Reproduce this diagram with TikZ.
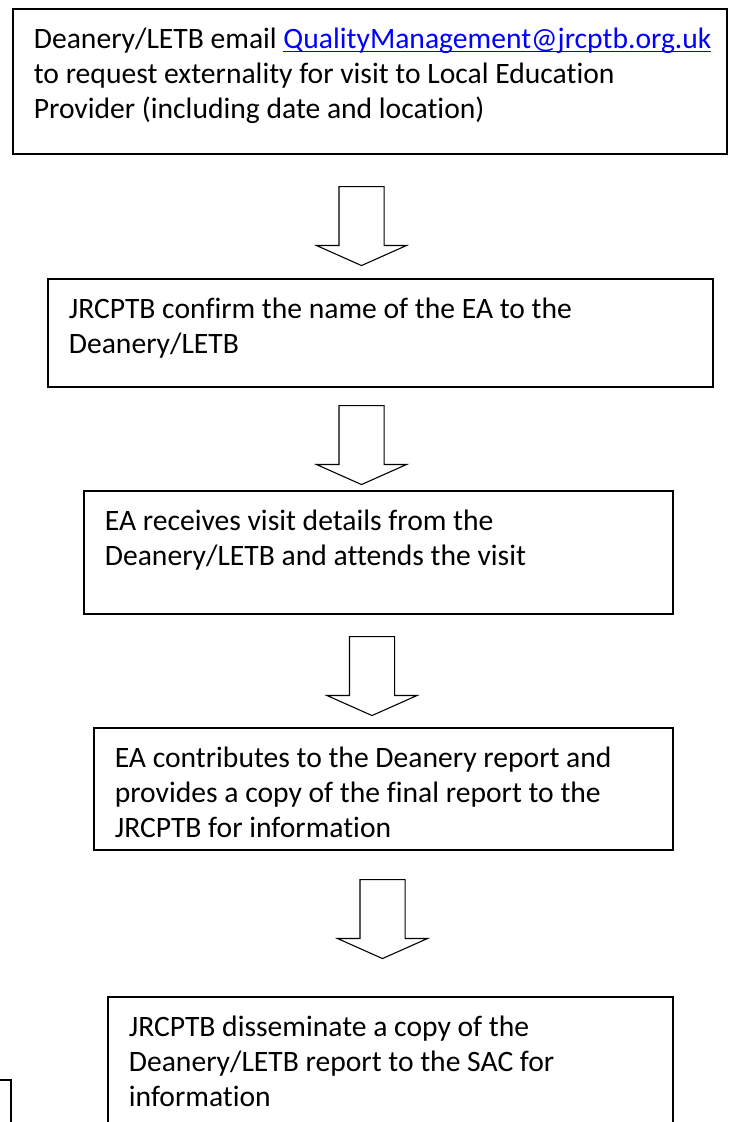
\documentclass[tikz,border=0pt]{standalone}
\usepackage{fontspec}
\setmainfont{Carlito}[Ligatures=NoCommon]
\usepackage{xcolor}
\usetikzlibrary{shapes.arrows}
\definecolor{linkblue}{RGB}{0,0,255}
\newcommand{\boxtext}[3]{\parbox[c][#1pt][t]{#2pt}{\raggedright\vspace*{15pt}\strut #3}}
\newcommand{\emaillink}[1]{\textcolor{linkblue}{\setbox0\hbox{#1}\rlap{\rule[-3.6pt]{\wd0}{1.4pt}}\box0}}
\tikzset{stepbox/.style={rectangle,draw,line width=1.7pt,inner xsep=21pt,inner ysep=0pt,anchor=north west,font=\fontsize{29.6}{35}\selectfont}}
\tikzset{blk/.style={single arrow,draw,line width=1.1pt,shape border rotate=270,inner sep=22pt,single arrow head extend=22.5pt,single arrow tip angle=132,minimum height=79pt,anchor=tail}}

\begin{document}
\begin{tikzpicture}[x=1pt,y=-1pt]
    \useasboundingbox (0,0) rectangle (733,1122);

    \node[stepbox] (req) at (12,8) {\boxtext{145}{672}{\mbox{Deanery/LETB email \emaillink{QualityManagement@jrcptb.org.uk}}\\to request externality for visit to Local Education\\Provider (including date and location)}};
    \node[stepbox] (conf) at (47,278) {\boxtext{108}{623}{JRCPTB confirm the name of the EA to the\\Deanery/LETB}};
    \node[stepbox] (visit) at (83,490) {\boxtext{123}{547}{EA receives visit details from the\\Deanery/LETB and attends the visit}};
    \node[stepbox] (rep) at (93,727) {\boxtext{122}{537}{EA contributes to the Deanery report and\\provides a copy of the final report to the\\JRCPTB for information}};
    \node[stepbox] (diss) at (107,996) {\boxtext{150}{523}{JRCPTB disseminate a copy of the\\Deanery/LETB report to the SAC for\\information}};
    \node[stepbox,minimum width=60pt,minimum height=80pt,anchor=north east] (side) at (12,1079) {};

    \node[blk] (a1) at (361.5,186) {};
    \node[blk] (a2) at (361.5,405) {};
    \node[blk] (a3) at (372,636) {};
    \node[blk] (a4) at (382.5,879) {};
\end{tikzpicture}
\end{document}
